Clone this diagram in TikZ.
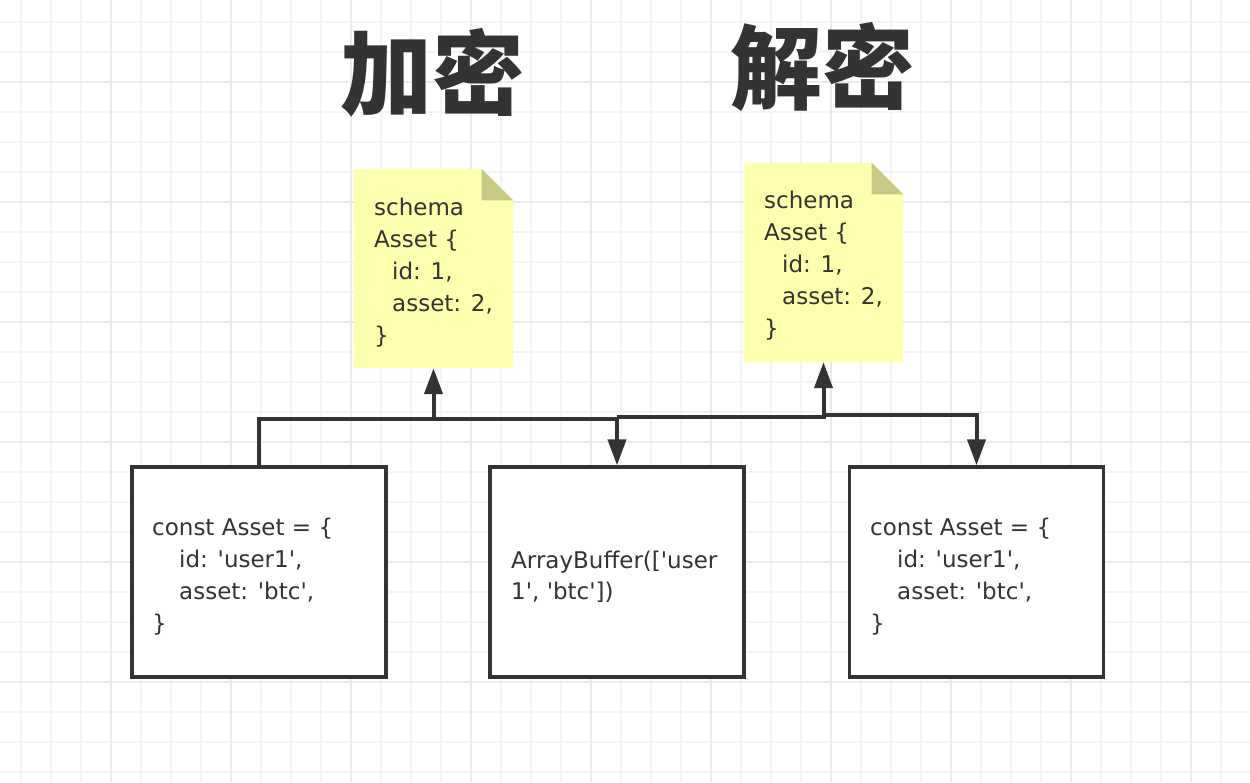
\documentclass[tikz,border=0pt]{standalone}
\usepackage{fontspec}
\newfontfamily\txt{DejaVu Sans}[Ligatures=TeXOff]
\newfontfamily\cjk{Noto Sans CJK SC}
\usetikzlibrary{arrows.meta,calc}
\definecolor{ink}{HTML}{333333}
\definecolor{notey}{HTML}{FFFFB0}
\definecolor{foldc}{HTML}{C9C987}
\definecolor{gmin}{HTML}{F4F4F4}
\definecolor{gmaj}{HTML}{EAEAEA}
\tikzset{
  gridminor/.style={gmin, line width=1.6pt},
  gridmajor/.style={gmaj, line width=1.6pt},
  codebox/.style={draw=ink, line width=3.3pt, fill=white, minimum width=254pt, minimum height=210pt, inner sep=0pt},
  notearea/.style={minimum width=159pt, minimum height=199pt, inner sep=0pt},
  txtline/.style={font=\txt\fontsize{23}{32}\selectfont, text=ink, inner sep=0pt, anchor=base west},
  title/.style={font=\cjk\bfseries\fontsize{92}{100}\selectfont, text=ink, inner sep=0pt, anchor=base},
  conn/.style={draw=ink, line width=4pt},
  arr/.style={conn, -{Triangle[width=18pt,length=26pt]}},
}
\begin{document}
\begin{tikzpicture}[x=1pt,y=-1pt]
\fill[white] (0,0) rectangle (1250,782);
\useasboundingbox (0,0) rectangle (1250,782);
% grid
\foreach \i in {0,...,41} \draw[gridminor] ({20.7+30*\i},0) -- ({20.7+30*\i},782);
\foreach \i in {0,...,26} \draw[gridminor] (0,{21.7+30*\i}) -- (1250,{21.7+30*\i});
\foreach \i in {0,...,10} \draw[gridmajor] ({110.7+120*\i},0) -- ({110.7+120*\i},782);
\foreach \i in {0,...,6} \draw[gridmajor] (0,{81.7+120*\i}) -- (1250,{81.7+120*\i});

% titles
\node[title] (tenc) at (432,108) {加密};
\node[title] (tdec) at (822,102) {解密};

% notes
\node[notearea] (note1) at (433.5,268.5) {};
\node[notearea] (note2) at (823.5,262.5) {};
\foreach \n in {note1,note2}{
  \fill[notey] (\n.south west) -- (\n.north west) -- ($(\n.north east)+(-31.5,0)$) -- ($(\n.north east)+(0,31.5)$) -- (\n.south east) -- cycle;
  \fill[foldc] ($(\n.north east)+(-31.5,0)$) -- ($(\n.north east)+(-31.5,31.5)$) -- ($(\n.north east)+(0,31.5)$) -- cycle;
}
\node[txtline] (n1a) at (374,215) {schema};
\node[txtline] (n1b) at (374,247) {Asset \{};
\node[txtline] (n1c) at (392,279) {id: 1,};
\node[txtline] (n1d) at (392,311) {asset: 2,};
\node[txtline] (n1e) at (374,343) {\}};
\node[txtline] (n2a) at (764,208) {schema};
\node[txtline] (n2b) at (764,240) {Asset \{};
\node[txtline] (n2c) at (782,272) {id: 1,};
\node[txtline] (n2d) at (782,304) {asset: 2,};
\node[txtline] (n2e) at (764,336) {\}};

% boxes
\node[codebox] (lbox) at (259,572) {};
\node[codebox] (mbox) at (617,572) {};
\node[codebox] (rbox) at (976.5,572) {};
\node[txtline] (l1) at (152,535) {const Asset = \{};
\node[txtline] (l2) at (179,567) {id: 'user1',};
\node[txtline] (l3) at (179,599) {asset: 'btc',};
\node[txtline] (l4) at (152,631) {\}};
\node[txtline] (m1) at (511,568) {ArrayBuffer(['user};
\node[txtline] (m2) at (511,599) {1', 'btc'])};
\node[txtline] (r1) at (870,535) {const Asset = \{};
\node[txtline] (r2) at (897,567) {id: 'user1',};
\node[txtline] (r3) at (897,599) {asset: 'btc',};
\node[txtline] (r4) at (870,631) {\}};

% connectors
\coordinate (j1) at (433.5,419);
\coordinate (j2) at (617,416.8);
\coordinate (j3) at (823.5,414.5);
\draw[arr] (lbox.north) |- (j1) -- (note1.south);
\draw[arr] (j1) -| (mbox.north);
\draw[arr] (j2) -| (note2.south);
\draw[arr] (j3) -| (rbox.north);
\end{tikzpicture}
\end{document}
